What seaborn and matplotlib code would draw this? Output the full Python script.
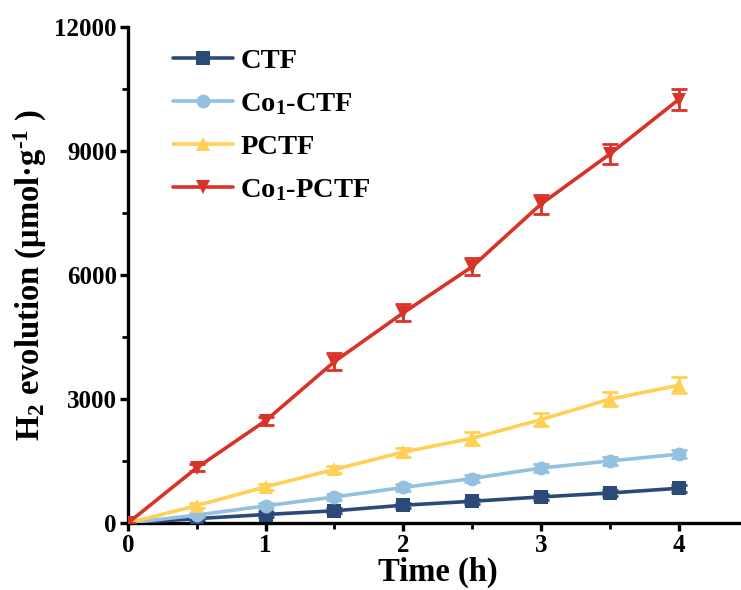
import numpy as np
import pandas as pd
import matplotlib
matplotlib.use("Agg")
import matplotlib.pyplot as plt
import seaborn as sns

time_h = [0, 0.5, 1, 1.5, 2, 2.5, 3, 3.5, 4]
ctf = [0, 105, 205, 295, 430, 525, 630, 725, 840]
co1_ctf = [0, 190, 415, 630, 860, 1075, 1330, 1500, 1665]
pctf = [0, 420, 875, 1295, 1715, 2050, 2500, 2995, 3330]
co1_pctf = [0, 1335, 2475, 3905, 5085, 6200, 7715, 8925, 10245]

ctf_err = [0, 40, 50, 60, 60, 60, 70, 70, 80]
co1_ctf_err = [0, 50, 60, 70, 80, 80, 90, 90, 100]
pctf_err = [0, 60, 70, 90, 110, 160, 160, 170, 190]
co1_pctf_err = [0, 80, 100, 210, 210, 200, 230, 250, 260]

labels = ["CTF", r"Co$_\mathbf{1}$-CTF", "PCTF", r"Co$_\mathbf{1}$-PCTF"]
colors = ["#2C4A78", "#94C1E0", "#FFD055", "#D93329"]
markers = ["s", "o", "^", "v"]

sns.set_style("ticks")
plt.rcParams["font.family"] = ["Liberation Serif", "DejaVu Serif"]
plt.rcParams["font.weight"] = "bold"
plt.rcParams["text.color"] = "black"
plt.rcParams["axes.labelcolor"] = "black"
plt.rcParams["xtick.color"] = "black"
plt.rcParams["ytick.color"] = "black"
plt.rcParams["mathtext.fontset"] = "custom"
plt.rcParams["mathtext.rm"] = "Liberation Serif:bold"
plt.rcParams["mathtext.bf"] = "Liberation Serif:bold"
plt.rcParams["mathtext.it"] = "Liberation Serif:bold:italic"

fig = plt.figure(figsize=(7.41, 5.90), dpi=100)
ax = fig.add_axes([0.1727, 0.1136, 0.836, 0.8406])

series = [ctf, co1_ctf, pctf, co1_pctf]
errs = [ctf_err, co1_ctf_err, pctf_err, co1_pctf_err]
frames = []
for lab, vals in zip(labels, series):
    frames.append(pd.DataFrame({"Time": time_h, "H2": vals, "Sample": lab}))
df = pd.concat(frames, ignore_index=True)

for i, (lab, vals, err) in enumerate(zip(labels, series, errs)):
    ax.errorbar(time_h, vals, yerr=err, fmt="none", ecolor=colors[i],
                elinewidth=2.0, capsize=6, capthick=2.0, zorder=2 + i)
    sns.lineplot(data=df[df["Sample"] == lab], x="Time", y="H2", ax=ax,
                 color=colors[i], marker=markers[i], markersize=10,
                 markeredgewidth=0, linewidth=2.6, label=lab, zorder=3 + i,
                 errorbar=None)

ax.set_xlim(0, 4.5)
ax.set_ylim(0, 12000)
ax.set_xticks([0, 1, 2, 3, 4])
ax.set_xticks([0.5, 1.5, 2.5, 3.5], minor=True)
ax.set_yticks([0, 3000, 6000, 9000, 12000])
ax.set_yticks([1500, 4500, 7500, 10500], minor=True)

for s in ["top", "right"]:
    ax.spines[s].set_visible(False)
for s in ["left", "bottom"]:
    ax.spines[s].set_linewidth(2.4)
    ax.spines[s].set_color("black")

ax.tick_params(axis="both", which="major", direction="out", length=6, width=2.4,
               labelsize=18, pad=2, colors="black")
ax.tick_params(axis="both", which="minor", direction="out", length=4, width=2.0)
for t in ax.get_xticklabels() + ax.get_yticklabels():
    t.set_fontweight("bold")

ax.set_xlabel("Time (h)", fontsize=23.5, fontweight="bold", labelpad=0,
              color="black")
ax.set_ylabel(r"H$_2$ evolution (μmol·g$^{\text{-1}}$ )", fontsize=23.5,
              fontweight="bold", labelpad=4, color="black")

leg = ax.legend(loc="upper left", bbox_to_anchor=(0.032, 1.01), frameon=False,
                handlelength=2.1, labelspacing=0.6, handletextpad=0.25,
                prop={"weight": "bold", "size": 20.5})
for t in leg.get_texts():
    t.set_color("black")

fig.savefig("out.png", dpi=100)
